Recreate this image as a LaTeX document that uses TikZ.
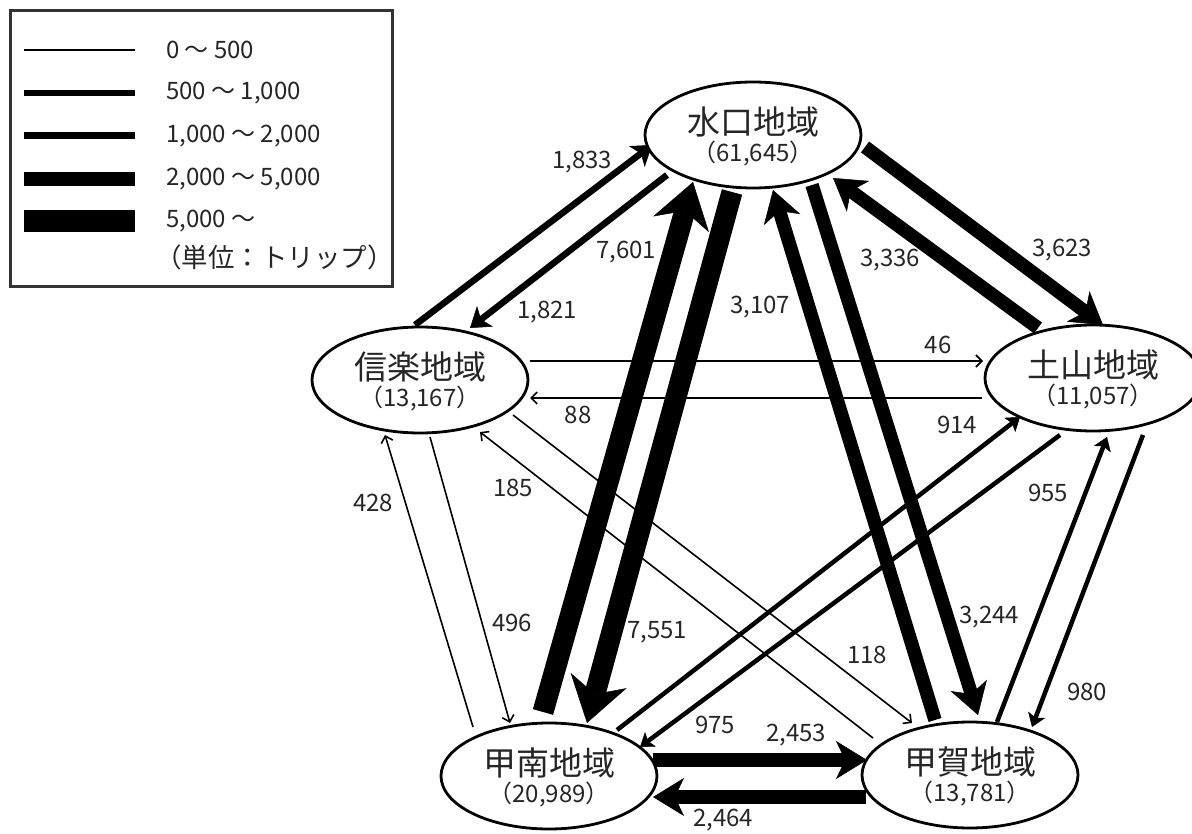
\documentclass[tikz,border=0pt]{standalone}
\usepackage{fontspec}
\setmainfont{Noto Sans CJK JP}
\usetikzlibrary{arrows.meta,shapes.geometric,calc}
\pgfdeclarelayer{bg}
\pgfsetlayers{bg,main}
\begin{document}
\begin{tikzpicture}[x=1pt,y=-1pt,
 region/.style={ellipse,draw,line width=2.8pt,fill=white,minimum width=216pt,minimum height=106pt,inner sep=0pt},
 rname/.style={font=\fontsize{33}{36}\selectfont,text=black!85,inner sep=0pt},
 rpop/.style={font=\fontsize{24}{28}\selectfont,text=black!85,inner sep=0pt},
 val/.style={font=\fontsize{24}{28}\selectfont,text=black!85,inner sep=0pt},
 legtext/.style={font=\fontsize{24}{28}\selectfont,text=black!85,inner sep=0pt,anchor=west},
 legnote/.style={font=\fontsize{26.5}{30}\selectfont,text=black!85,inner sep=0pt,anchor=west},
 fa/.style={line width=1.6pt,-{Straight Barb[length=6pt,width=12pt]}},
 fb/.style={line width=4.5pt,-{Stealth[length=13pt,width=18pt,inset=3pt,line width=0.5pt]}},
 fc/.style={line width=6.5pt,-{Stealth[length=19pt,width=26pt,inset=5pt,line width=0.5pt]}},
 fd/.style={line width=13.5pt,-{Stealth[length=31pt,width=38pt,inset=9pt,line width=0.5pt]}},
 fe/.style={line width=21pt,-{Stealth[length=44pt,width=58pt,inset=14pt,line width=0.5pt]}},
 legframe/.style={draw=black!80,line width=3pt},
]
\useasboundingbox (0,0) rectangle (1192,834);
\clip (0,0) rectangle (1192,834);

% legend
\draw[legframe] (10,11) rectangle (392,287);
\draw[line width=2pt] (24,50) -- (135,50);
\draw[line width=6pt] (24,93) -- (135,93);
\draw[line width=7pt] (24,136) -- (135,136);
\draw[line width=14pt] (24,179) -- (135,179);
\draw[line width=22pt] (24,221) -- (135,221);
\node[legtext] (lg1) at (166,50) {0 ～ 500};
\node[legtext] (lg2) at (166,93) {500 ～ 1,000};
\node[legtext] (lg3) at (166,136) {1,000 ～ 2,000};
\node[legtext] (lg4) at (166,179) {2,000 ～ 5,000};
\node[legtext] (lg5) at (166,221) {5,000 ～};
\node[legnote] (lg6) at (155,257) {（単位：トリップ）};

% regions
\node[region] (M) at (753,135) {};
\node[region] (S) at (420,380) {};
\node[region] (T) at (1093,378) {};
\node[region] (K) at (549,776) {};
\node[region] (G) at (970,775) {};
\node[rname] (Mn) at ($(M)+(0,-13)$) {水口地域};
\node[rpop]  (Mp) at ($(M)+(0,19)$) {（61,645）};
\node[rname] (Sn) at ($(S)+(0,-13)$) {信楽地域};
\node[rpop]  (Sp) at ($(S)+(0,19)$) {（13,167）};
\node[rname] (Tn) at ($(T)+(0,-13)$) {土山地域};
\node[rpop]  (Tp) at ($(T)+(0,19)$) {（11,057）};
\node[rname] (Kn) at ($(K)+(0,-13)$) {甲南地域};
\node[rpop]  (Kp) at ($(K)+(0,19)$) {（20,989）};
\node[rname] (Gn) at ($(G)+(0,-13)$) {甲賀地域};
\node[rpop]  (Gp) at ($(G)+(0,19)$) {（13,781）};

\begin{pgfonlayer}{bg}
% Shigaraki - Minakuchi
\draw[fc] ($(S)+(-5,-55)$) -- ($(M)+(-101,10)$);
\draw[fc] ($(M)+(-86,40)$) -- ($(S)+(50,-52)$);
% Konan - Minakuchi
\draw[fe] ($(K)+(-6,-64)$) -- ($(M)+(-60,47)$);
\draw[fe] ($(M)+(-21,57)$) -- ($(K)+(38,-53)$);
% Koka - Minakuchi
\draw[fd] ($(G)+(-35,-55)$) -- ($(M)+(20,55)$);
\draw[fd] ($(M)+(59,50)$) -- ($(G)+(8,-60)$);
% Minakuchi - Tsuchiyama
\draw[fd] ($(M)+(112,12)$) -- ($(T)+(10,-53)$);
\draw[fd] ($(T)+(-55,-50)$) -- ($(M)+(80,43)$);
% Shigaraki - Tsuchiyama
\draw[fa] ($(S)+(110,-19)$) -- ($(T)+(-110,-17)$);
\draw[fa] ($(T)+(-111,20)$) -- ($(S)+(110,18)$);
% Konan - Tsuchiyama
\draw[fb] ($(K)+(68,-46)$) -- ($(T)+(-73,39)$);
\draw[fb] ($(T)+(-33,57)$) -- ($(K)+(91,-29)$);
% Konan - Shigaraki
\draw[fa] ($(K)+(-76,-49)$) -- ($(S)+(-35,55)$);
\draw[fa] ($(S)+(10,57)$) -- ($(K)+(-39,-53)$);
% Koka - Shigaraki
\draw[fa] ($(G)+(-97,-37)$) -- ($(S)+(60,52)$);
\draw[fa] ($(S)+(93,35)$) -- ($(G)+(-58,-52)$);
% Koka - Tsuchiyama
\draw[fb] ($(G)+(27,-53)$) -- ($(T)+(14,59)$);
\draw[fb] ($(T)+(50,57)$) -- ($(G)+(62,-48)$);
% Konan - Koka
\draw[fd] ($(K)+(104,-16)$) -- ($(G)+(-103,-15)$);
\draw[fd] ($(G)+(-104,22)$) -- ($(K)+(104,21)$);
\end{pgfonlayer}

% values
\node[val] (v1833) at (582,162) {1,833};
\node[val] (v1821) at (547,312) {1,821};
\node[val] (v7601) at (626,252) {7,601};
\node[val] (v7551) at (657,632) {7,551};
\node[val] (v3107) at (760,307) {3,107};
\node[val] (v3244) at (989,617) {3,244};
\node[val] (v3623) at (1062,250) {3,623};
\node[val] (v3336) at (890,260) {3,336};
\node[val] (v46)   at (938,345) {46};
\node[val] (v88)   at (578,415) {88};
\node[val] (v914)  at (957,425) {914};
\node[val] (v975)  at (715,725) {975};
\node[val] (v428)  at (373,503) {428};
\node[val] (v496)  at (512,623) {496};
\node[val] (v185)  at (513,488) {185};
\node[val] (v118)  at (867,655) {118};
\node[val] (v955)  at (1048,493) {955};
\node[val] (v980)  at (1087,692) {980};
\node[val] (v2453) at (796,735) {2,453};
\node[val] (v2464) at (723,820) {2,464};
\end{tikzpicture}
\end{document}
